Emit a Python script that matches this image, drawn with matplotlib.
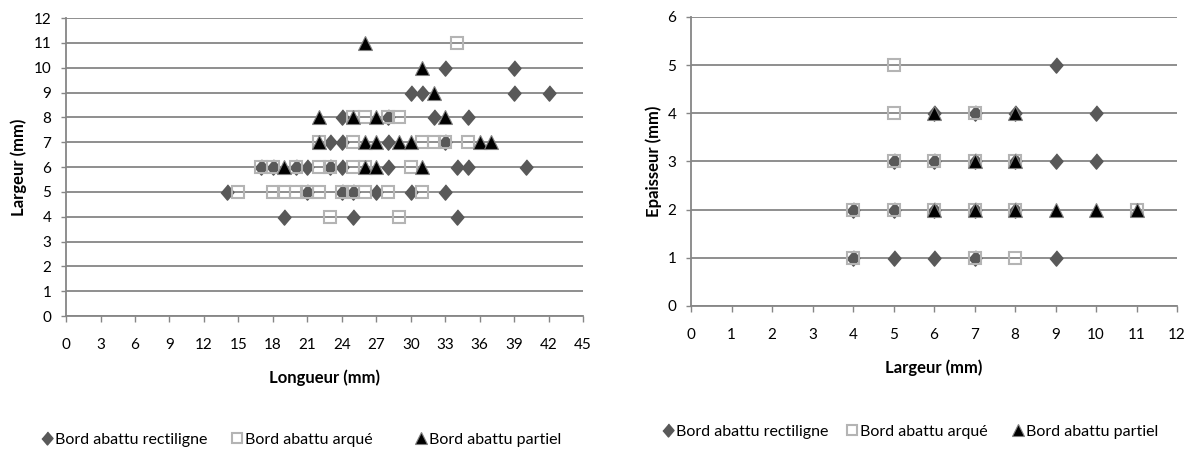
import matplotlib.pyplot as plt
from matplotlib.lines import Line2D

plt.rcParams['font.family'] = ['Lato', 'DejaVu Sans']

# --- données graphique gauche : Longueur x Largeur (mm) ---
rect_long = [14, 17, 18, 19, 20, 21, 21, 23, 23, 24, 24, 24, 24, 25, 25, 27, 28, 28, 28,
             30, 30, 31, 32, 33, 33, 33, 34, 34, 35, 35, 39, 39, 40, 42]
rect_larg = [5, 6, 6, 4, 6, 6, 5, 7, 6, 8, 7, 6, 5, 5, 4, 5, 8, 7, 6,
             9, 5, 9, 8, 10, 7, 5, 6, 4, 8, 6, 10, 9, 6, 9]

arq_long = [15, 17, 18, 18, 19, 20, 20, 21, 22, 22, 22, 23, 23, 24, 25, 25, 25, 25,
            26, 26, 26, 28, 28, 29, 29, 30, 31, 31, 32, 33, 34, 35]
arq_larg = [5, 6, 6, 5, 5, 6, 5, 5, 7, 6, 5, 6, 4, 5, 8, 7, 6, 5,
            8, 6, 5, 8, 5, 8, 4, 6, 7, 5, 7, 7, 11, 7]

part_long = [19, 22, 22, 25, 26, 26, 26, 27, 27, 27, 29, 30, 31, 31, 32, 33, 36, 37]
part_larg = [6, 8, 7, 8, 11, 7, 6, 8, 7, 6, 7, 7, 10, 6, 9, 8, 7, 7]

# --- données graphique droite : Largeur x Epaisseur (mm) ---
rect_larg2 = [4, 5, 6, 7, 9, 4, 5, 6, 7, 8, 5, 6, 7, 8, 9, 10, 6, 7, 8, 10, 9]
rect_ep2 = [1, 1, 1, 1, 1, 2, 2, 2, 2, 2, 3, 3, 3, 3, 3, 3, 4, 4, 4, 4, 5]

arq_larg2 = [4, 7, 8, 4, 5, 6, 7, 8, 11, 5, 6, 7, 8, 5, 7, 5]
arq_ep2 = [1, 1, 1, 2, 2, 2, 2, 2, 2, 3, 3, 3, 3, 4, 4, 5]

part_larg2 = [6, 7, 8, 9, 10, 11, 7, 8, 6, 8]
part_ep2 = [2, 2, 2, 2, 2, 2, 3, 3, 4, 4]

legende = ['Bord abattu rectiligne', 'Bord abattu arqué', 'Bord abattu partiel']

# styles des marqueurs (façon Excel)
losange = [(0, 1), (0.85, 0), (0, -1), (-0.85, 0)]
st_rect = dict(marker=losange, ms=11, color='#595959', mec='#595959', ls='none')
st_arq = dict(marker='s', ms=9, mfc='none', mec='#b4b4b4', mew=1.5, ls='none')
st_part = dict(marker='^', ms=10, mfc='black', mec='#7f7f7f', mew=0.8, ls='none')

gris = '#868686'


def style_axe(ax):
    ax.yaxis.grid(True, color=gris, lw=1.3)
    ax.set_axisbelow(True)
    for s in ['top', 'right']:
        ax.spines[s].set_visible(False)
    for s in ['left', 'bottom']:
        ax.spines[s].set_color(gris)
        ax.spines[s].set_linewidth(1.3)
    ax.tick_params(axis='x', direction='out', length=4.5, width=1, color=gris, pad=11, labelsize=11)
    ax.tick_params(axis='y', direction='out', length=3.5, width=1, color=gris, pad=7, labelsize=11)


fig = plt.figure(figsize=(11.9, 4.49), dpi=100)

# graphique gauche
ax1 = fig.add_axes([0.0555, 0.2962, 0.4345, 0.6637])
ax1.plot(rect_long, rect_larg, **st_rect)
ax1.plot(arq_long, arq_larg, **st_arq)
ax1.plot(part_long, part_larg, **st_part)
ax1.set_xlim(0, 45)
ax1.set_ylim(0, 12)
ax1.set_xticks(range(0, 46, 3))
ax1.set_yticks(range(0, 13))
style_axe(ax1)
ax1.set_xlabel('Longueur (mm)', fontweight='bold', fontsize=12, labelpad=13)
ax1.set_ylabel('Largeur (mm)', fontweight='bold', fontsize=12, labelpad=5)

# graphique droite
ax2 = fig.add_axes([0.5807, 0.3185, 0.4084, 0.6437])
ax2.plot(rect_larg2, rect_ep2, **st_rect)
ax2.plot(arq_larg2, arq_ep2, **st_arq)
ax2.plot(part_larg2, part_ep2, **st_part)
ax2.set_xlim(0, 12)
ax2.set_ylim(0, 6)
ax2.set_xticks(range(0, 13))
ax2.set_yticks(range(0, 7))
style_axe(ax2)
ax2.set_xlabel('Largeur (mm)', fontweight='bold', fontsize=12, labelpad=13)
ax2.set_ylabel('Epaisseur (mm)', fontweight='bold', fontsize=12, labelpad=4)

# légendes sous chaque graphique (une entrée par colonne, largeurs égales comme Excel)
poignees = [Line2D([], [], **st_rect), Line2D([], [], **st_arq), Line2D([], [], **st_part)]
for p in poignees:
    p.set_markersize(p.get_markersize() * 0.85)

pos_gauche = [0.0341, 0.1938, 0.3484]
pos_droite = [0.556, 0.7106, 0.8501]
for h, txt, xg, xd in zip(poignees, legende, pos_gauche, pos_droite):
    for x, y in [(xg, 0.0205), (xd, 0.0385)]:
        fig.legend([h], [txt], loc='center left', bbox_to_anchor=(x, y), frameon=False,
                   fontsize=11.5, handlelength=0.8, handletextpad=0.1,
                   borderpad=0, borderaxespad=0)

fig.savefig('out.png', dpi=100)
